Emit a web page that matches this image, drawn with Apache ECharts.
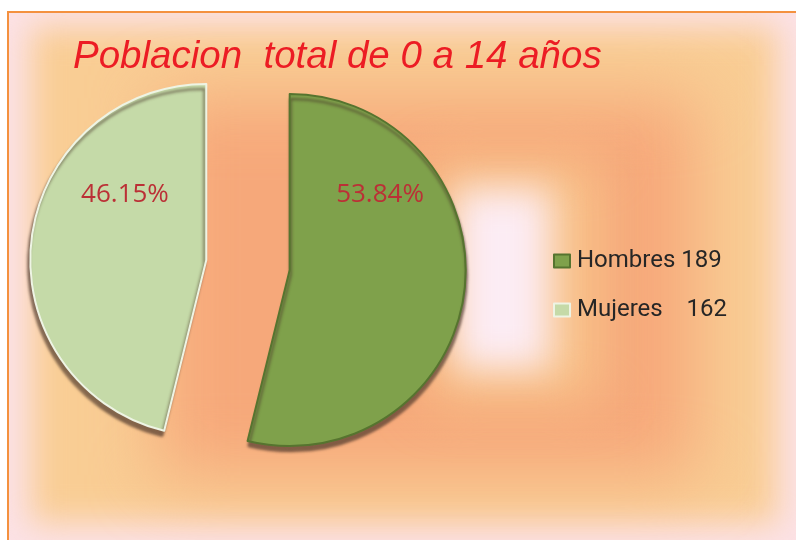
<!DOCTYPE html>
<html>
<head>
<meta charset="utf-8">
<script src="https://cdn.jsdelivr.net/npm/echarts@6/dist/echarts.min.js"></script>
<style>
  html, body { margin: 0; padding: 0; background: #ffffff; }
  #frame { position: absolute; left: 7px; top: 11px; width: 792px; height: 532px;
           border: 2px solid #f4913f; border-right: none; border-bottom: none;
           background: #fce2e6; overflow: hidden; }
  .bg { position: absolute; }
  #l1 { left: 22px; top: 14px; right: 24px; bottom: 22px; background: #f9cd94; filter: blur(16px); }
  #l2 { left: 150px; top: 85px; right: 105px; bottom: 70px; background: #f6a87a; filter: blur(34px); }
  #l3 { left: 420px; top: 148px; width: 170px; height: 240px; background: #f8c48b; filter: blur(26px); }
  #l4 { left: 446px; top: 176px; width: 95px; height: 180px; background: #fcecf4; filter: blur(18px); }
  #chart { position: absolute; left: 0; top: 0; width: 796px; height: 540px; }
</style>
</head>
<body>
<div id="frame">
  <div class="bg" id="l1"></div>
  <div class="bg" id="l2"></div>
  <div class="bg" id="l3"></div>
  <div class="bg" id="l4"></div>
</div>
<div id="chart"></div>
<script>
const titleText = 'Poblacion  total de 0 a 14 años';
const categories = ['Hombres', 'Mujeres'];
const values = [189, 162];
const percentLabels = ['53.84%', '46.15%'];
const legendLabels = ['Hombres 189', 'Mujeres    162'];
const colors = ['#7fa14b', '#c5daa8'];
const borderColors = ['#56742f', '#eef4e4'];

const chart = echarts.init(document.getElementById('chart'), null, { renderer: 'canvas' });
const labelShift = [[0, -86], [9, -54]];

chart.setOption({
  backgroundColor: 'transparent',
  title: {
    text: titleText,
    left: 68, top: 33,
    textStyle: { fontFamily: '"Liberation Sans Narrow", "Liberation Sans", sans-serif',
                 fontStyle: 'italic', fontWeight: 'normal', fontSize: 38.5, color: '#ec1c24' }
  },
  legend: {
    orient: 'vertical',
    left: 548, top: 244,
    itemWidth: 16, itemHeight: 13, itemGap: 25,
    icon: 'rect',
    data: categories,
    formatter: function (name) { return legendLabels[categories.indexOf(name)]; },
    textStyle: { fontFamily: 'Roboto, sans-serif', fontSize: 24, color: '#262626', padding: [0, 0, 0, 2] }
  },
  series: [{
    type: 'pie',
    center: [248, 265],
    radius: [0, 176],
    startAngle: 90,
    clockwise: true,
    selectedMode: 'multiple',
    selectedOffset: 42,
    animation: false,
    silent: true,
    label: {
      show: true,
      position: 'inside',
      formatter: function (p) { return percentLabels[p.dataIndex]; },
      fontFamily: '"Open Sans", sans-serif',
      fontSize: 26,
      color: '#bb3036'
    },
    labelLine: { show: false },
    labelLayout: function (p) {
      return { dx: labelShift[p.dataIndex][0], dy: labelShift[p.dataIndex][1] };
    },
    data: categories.map(function (c, i) {
      return {
        name: c, value: values[i], selected: true,
        itemStyle: {
          color: colors[i],
          borderColor: borderColors[i], borderWidth: 2,
          shadowColor: 'rgba(70,50,40,0.65)', shadowBlur: 3, shadowOffsetX: i === 1 ? -2 : 1, shadowOffsetY: 5
        }
      };
    }),
    emphasis: { disabled: true }
  }]
});
</script>
</body>
</html>
